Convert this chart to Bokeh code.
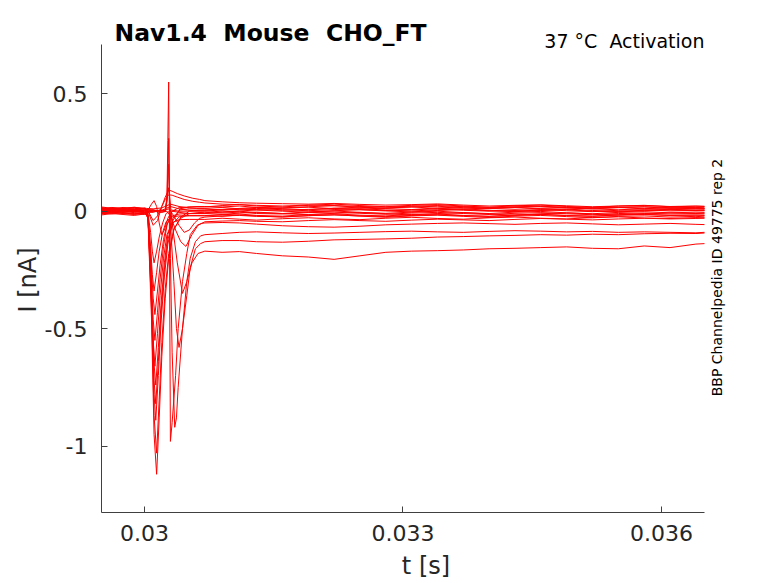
import math
from bokeh.plotting import figure
from bokeh.models import Range1d, FixedTicker, Label, Title
from bokeh.embed import file_html
from bokeh.resources import INLINE

# ---------------- data ----------------
x_ticks = [0.03, 0.033, 0.036]
x_tick_labels = ["0.03", "0.033", "0.036"]
y_ticks = [-1, -0.5, 0, 0.5]
y_tick_labels = ["-1", "-0.5", "0", "0.5"]

PRE_T = [0.02950, 0.02962, 0.02975, 0.02988, 0.03000, 0.03002]
TAIL_T = [0.03070, 0.03090, 0.03110, 0.03130, 0.03160, 0.03190, 0.03220, 0.03250,
          0.03280, 0.03310, 0.03340, 0.03370, 0.03400, 0.03430, 0.03460, 0.03490,
          0.03520, 0.03550, 0.03580, 0.03610, 0.03640, 0.03650]

# fast traces (high voltage steps)
f1_pre = [0.010, 0.004, 0.008, 0.002, 0.005, 0.000]
f1_t = [0.03004, 0.03008, 0.03011, 0.03014, 0.03017, 0.03020, 0.03024, 0.03028, 0.03034, 0.03042, 0.03052, 0.03062]
f1_i = [-0.04, -0.45, -0.95, -1.12, -0.88, -0.62, -0.37, -0.20, -0.08, -0.025, 0.000, 0.004]
f1_tail = [0.005, 0.008, 0.010, 0.006, 0.004, 0.008, 0.012, 0.007, 0.003, 0.006, 0.010, 0.004, 0.000, 0.003, 0.007, 0.002, -0.002, 0.004, 0.006, 0.001, 0.003, 0.002]

f2_pre = [-0.005, 0.002, -0.004, 0.000, -0.003, -0.010]
f2_t = [0.03004, 0.03008, 0.03011, 0.03014, 0.03017, 0.03020, 0.03024, 0.03028, 0.03034, 0.03042, 0.03052, 0.03062]
f2_i = [-0.03, -0.41, -0.87, -1.03, -0.80, -0.56, -0.33, -0.18, -0.075, -0.03, -0.010, -0.006]
f2_tail = [-0.005, -0.008, -0.004, -0.010, -0.012, -0.006, -0.004, -0.009, -0.013, -0.008, -0.005, -0.010, -0.014, -0.009, -0.006, -0.011, -0.015, -0.010, -0.008, -0.012, -0.010, -0.011]

f3_pre = [0.015, 0.010, 0.016, 0.012, 0.010, 0.005]
f3_t = [0.03004, 0.03008, 0.03011, 0.03013, 0.03016, 0.03019, 0.03023, 0.03027, 0.03033, 0.03041, 0.03052, 0.03062]
f3_i = [-0.03, -0.38, -0.78, -0.89, -0.70, -0.48, -0.28, -0.14, -0.04, 0.010, 0.018, 0.020]
f3_tail = [0.020, 0.018, 0.022, 0.016, 0.014, 0.019, 0.023, 0.017, 0.013, 0.018, 0.021, 0.015, 0.011, 0.016, 0.020, 0.014, 0.010, 0.015, 0.018, 0.012, 0.014, 0.012]

f4_pre = [-0.012, -0.006, -0.010, -0.014, -0.008, -0.012]
f4_t = [0.03004, 0.03008, 0.03011, 0.03013, 0.03016, 0.03019, 0.03023, 0.03027, 0.03033, 0.03041, 0.03052, 0.03062]
f4_i = [-0.03, -0.35, -0.72, -0.82, -0.64, -0.44, -0.25, -0.12, -0.05, -0.022, -0.018, -0.018]
f4_tail = [-0.018, -0.022, -0.016, -0.020, -0.025, -0.019, -0.015, -0.021, -0.026, -0.020, -0.017, -0.022, -0.027, -0.021, -0.018, -0.023, -0.028, -0.022, -0.020, -0.025, -0.022, -0.024]

f5_pre = [0.004, 0.010, 0.006, 0.001, 0.006, 0.000]
f5_t = [0.03004, 0.03008, 0.03011, 0.03013, 0.03016, 0.03019, 0.03023, 0.03027, 0.03033, 0.03041, 0.03052, 0.03062]
f5_i = [-0.02, -0.32, -0.65, -0.74, -0.58, -0.40, -0.22, -0.10, -0.03, 0.005, 0.010, 0.010]
f5_tail = [0.010, 0.004, 0.008, 0.012, 0.006, 0.002, 0.007, 0.011, 0.005, 0.001, 0.006, 0.010, 0.004, 0.000, 0.005, 0.009, 0.003, -0.001, 0.004, 0.008, 0.005, 0.006]

f6_pre = [-0.016, -0.010, -0.014, -0.018, -0.012, -0.016]
f6_t = [0.03004, 0.03007, 0.03010, 0.03012, 0.03015, 0.03018, 0.03022, 0.03026, 0.03032, 0.03040, 0.03052, 0.03062]
f6_i = [-0.03, -0.26, -0.55, -0.66, -0.52, -0.36, -0.20, -0.10, -0.05, -0.036, -0.035, -0.035]
f6_tail = [-0.035, -0.030, -0.034, -0.038, -0.032, -0.028, -0.033, -0.036, -0.030, -0.026, -0.031, -0.034, -0.028, -0.025, -0.030, -0.033, -0.027, -0.024, -0.029, -0.031, -0.027, -0.028]

f7_pre = [0.018, 0.012, 0.008, 0.014, 0.012, 0.010]
f7_t = [0.03004, 0.03007, 0.03010, 0.03012, 0.03015, 0.03018, 0.03022, 0.03026, 0.03032, 0.03040, 0.03052, 0.03062]
f7_i = [-0.02, -0.22, -0.46, -0.55, -0.43, -0.29, -0.15, -0.06, 0.000, 0.015, 0.018, 0.018]
f7_tail = [0.018, 0.024, 0.028, 0.022, 0.018, 0.025, 0.030, 0.024, 0.019, 0.025, 0.028, 0.022, 0.017, 0.023, 0.026, 0.020, 0.016, 0.022, 0.025, 0.019, 0.021, 0.020]

f8_pre = [0.000, -0.005, 0.002, -0.003, -0.006, -0.008]
f8_t = [0.03004, 0.03007, 0.03010, 0.03012, 0.03015, 0.03018, 0.03022, 0.03026, 0.03032, 0.03040, 0.03052, 0.03062]
f8_i = [-0.02, -0.18, -0.37, -0.44, -0.34, -0.23, -0.12, -0.055, -0.02, -0.012, -0.010, -0.010]
f8_tail = [-0.010, -0.004, 0.000, -0.006, -0.010, -0.003, 0.001, -0.005, -0.009, -0.004, 0.000, -0.006, -0.010, -0.004, -0.001, -0.007, -0.011, -0.005, -0.002, -0.007, -0.004, -0.005]

f9_pre = [-0.008, -0.012, -0.006, -0.010, -0.014, -0.010]
f9_t = [0.03004, 0.03007, 0.03009, 0.03011, 0.03014, 0.03017, 0.03021, 0.03025, 0.03031, 0.03040, 0.03052, 0.03062]
f9_i = [-0.02, -0.15, -0.27, -0.34, -0.26, -0.17, -0.09, -0.045, -0.025, -0.020, -0.020, -0.020]
f9_tail = [-0.020, -0.015, -0.012, -0.018, -0.021, -0.014, -0.011, -0.017, -0.020, -0.014, -0.012, -0.018, -0.022, -0.016, -0.013, -0.019, -0.022, -0.016, -0.013, -0.018, -0.016, -0.017]

f10_pre = [0.008, 0.014, 0.010, 0.006, 0.012, 0.006]
f10_t = [0.03004, 0.03007, 0.03009, 0.03011, 0.03014, 0.03017, 0.03021, 0.03025, 0.03031, 0.03040, 0.03052, 0.03062]
f10_i = [-0.01, -0.09, -0.17, -0.22, -0.17, -0.11, -0.05, -0.01, 0.005, 0.000, 0.000, 0.000]
f10_tail = [0.000, 0.006, 0.012, 0.016, 0.010, 0.006, 0.013, 0.017, 0.011, 0.007, 0.014, 0.018, 0.012, 0.008, 0.013, 0.016, 0.010, 0.006, 0.011, 0.014, 0.010, 0.011]

f11_pre = [-0.002, 0.004, 0.000, 0.006, 0.002, 0.004]
f11_t = [0.03004, 0.03008, 0.03011, 0.03014, 0.03017, 0.03020, 0.03023, 0.03027, 0.03032, 0.03040, 0.03052, 0.03062]
f11_i = [0.005, 0.030, 0.045, 0.020, -0.050, -0.100, -0.080, -0.030, 0.000, -0.005, -0.010, -0.010]
f11_tail = [-0.010, -0.014, -0.008, -0.004, -0.010, -0.015, -0.009, -0.005, -0.011, -0.016, -0.010, -0.006, -0.012, -0.017, -0.011, -0.007, -0.012, -0.016, -0.010, -0.007, -0.009, -0.008]

# traces with an outward hump
p1_pre = [0.012, 0.006, 0.011, 0.016, 0.010, 0.008]
p1_t = [0.03005, 0.03010, 0.03015, 0.03020, 0.03024, 0.03028, 0.03032, 0.03038, 0.03046, 0.03056, 0.03064]
p1_i = [-0.010, -0.060, -0.040, 0.020, 0.060, 0.090, 0.085, 0.075, 0.065, 0.055, 0.050]
p1_tail = [0.045, 0.040, 0.036, 0.034, 0.032, 0.030, 0.033, 0.029, 0.026, 0.028, 0.031, 0.026, 0.022, 0.025, 0.027, 0.023, 0.019, 0.022, 0.024, 0.020, 0.022, 0.021]

p2_pre = [0.002, 0.008, 0.003, -0.002, 0.004, 0.000]
p2_t = [0.03005, 0.03010, 0.03015, 0.03020, 0.03024, 0.03028, 0.03032, 0.03038, 0.03046, 0.03056, 0.03064]
p2_i = [-0.005, -0.040, -0.020, 0.020, 0.050, 0.070, 0.068, 0.060, 0.050, 0.042, 0.038]
p2_tail = [0.035, 0.030, 0.028, 0.025, 0.022, 0.026, 0.024, 0.020, 0.018, 0.021, 0.024, 0.019, 0.016, 0.019, 0.021, 0.017, 0.014, 0.017, 0.019, 0.015, 0.016, 0.015]

# slower traces (lower voltage steps)
s1_pre = [0.006, 0.000, 0.004, 0.008, 0.002, 0.004]
s1_t = [0.03010, 0.03018, 0.03024, 0.03026, 0.03027, 0.03028, 0.03029, 0.03030, 0.03032, 0.03036, 0.03039, 0.03044, 0.03049, 0.03053, 0.03061, 0.03066]
s1_i = [0.005, -0.005, 0.000, 0.060, 0.300, 0.550, -0.200, -0.980, -0.900, -0.700, -0.500, -0.300, -0.180, -0.100, -0.060, -0.052]
s1_tail = [-0.050, -0.048, -0.050, -0.055, -0.062, -0.066, -0.068, -0.064, -0.058, -0.055, -0.052, -0.050, -0.053, -0.056, -0.052, -0.050, -0.054, -0.058, -0.055, -0.052, -0.056, -0.057]

s2_pre = [-0.004, -0.008, -0.002, -0.006, -0.010, -0.005]
s2_t = [0.03010, 0.03018, 0.03024, 0.03026, 0.03028, 0.03030, 0.03032, 0.03035, 0.03037, 0.03039, 0.03044, 0.03049, 0.03053, 0.03059, 0.03065]
s2_i = [-0.005, 0.005, 0.000, 0.050, 0.310, -0.200, -0.600, -0.920, -0.880, -0.750, -0.500, -0.300, -0.200, -0.130, -0.105]
s2_tail = [-0.100, -0.095, -0.090, -0.088, -0.092, -0.095, -0.093, -0.090, -0.087, -0.085, -0.088, -0.090, -0.086, -0.083, -0.085, -0.088, -0.086, -0.090, -0.088, -0.090, -0.092, -0.090]

s3_pre = [0.008, 0.012, 0.006, 0.004, 0.010, 0.006]
s3_t = [0.03010, 0.03018, 0.03024, 0.03026, 0.03028, 0.03030, 0.03034, 0.03037, 0.03040, 0.03044, 0.03049, 0.03053, 0.03059, 0.03065]
s3_i = [0.000, 0.005, 0.000, 0.040, 0.200, -0.050, -0.300, -0.500, -0.580, -0.500, -0.360, -0.240, -0.160, -0.138]
s3_tail = [-0.130, -0.125, -0.125, -0.130, -0.132, -0.128, -0.122, -0.120, -0.118, -0.115, -0.110, -0.108, -0.105, -0.103, -0.100, -0.102, -0.098, -0.100, -0.096, -0.094, -0.095, -0.093]

s4_pre = [-0.010, -0.004, -0.008, -0.012, -0.006, -0.004]
s4_t = [0.03010, 0.03018, 0.03024, 0.03028, 0.03032, 0.03038, 0.03044, 0.03049, 0.03055, 0.03062]
s4_i = [0.005, 0.000, 0.005, 0.100, -0.050, -0.220, -0.350, -0.300, -0.220, -0.180]
s4_tail = [-0.170, -0.175, -0.172, -0.180, -0.190, -0.195, -0.205, -0.190, -0.175, -0.170, -0.168, -0.165, -0.160, -0.158, -0.155, -0.152, -0.158, -0.160, -0.148, -0.155, -0.140, -0.138]

s5_pre = [0.003, -0.002, 0.004, 0.000, -0.004, 0.000]
s5_t = [0.03010, 0.03020, 0.03026, 0.03030, 0.03036, 0.03042, 0.03048, 0.03055, 0.03062]
s5_i = [0.000, -0.005, 0.000, -0.020, -0.080, -0.130, -0.150, -0.100, -0.060]
s5_tail = [-0.045, -0.042, -0.040, -0.043, -0.045, -0.040, -0.036, -0.040, -0.043, -0.038, -0.034, -0.037, -0.040, -0.035, -0.031, -0.034, -0.037, -0.033, -0.030, -0.033, -0.031, -0.030]

s6_pre = [0.014, 0.009, 0.012, 0.017, 0.011, 0.008]
s6_t = [0.03010, 0.03020, 0.03028, 0.03034, 0.03040, 0.03046, 0.03052, 0.03058, 0.03064]
s6_i = [0.005, 0.000, 0.010, -0.020, -0.060, -0.090, -0.080, -0.050, -0.030]
s6_tail = [-0.025, -0.020, -0.018, -0.022, -0.024, -0.019, -0.016, -0.020, -0.023, -0.018, -0.015, -0.019, -0.022, -0.017, -0.014, -0.018, -0.021, -0.016, -0.014, -0.018, -0.017, -0.018]

# non-activated traces
b1_pre = [-0.006, 0.000, -0.004, 0.002, -0.002, -0.004]
b1_t = [0.03010, 0.03020, 0.03030, 0.03040, 0.03050, 0.03060]
b1_i = [0.000, 0.004, 0.020, 0.010, 0.004, 0.002]
b1_tail = [0.002, -0.003, 0.001, 0.005, 0.000, -0.004, 0.002, 0.006, 0.001, -0.003, 0.003, 0.007, 0.002, -0.002, 0.003, 0.006, 0.000, -0.003, 0.002, 0.005, 0.002, 0.003]

b2_pre = [0.010, 0.016, 0.012, 0.008, 0.014, 0.012]
b2_t = [0.03010, 0.03020, 0.03030, 0.03040, 0.03050, 0.03060]
b2_i = [0.010, 0.014, 0.030, 0.020, 0.015, 0.012]
b2_tail = [0.012, 0.016, 0.010, 0.008, 0.013, 0.017, 0.011, 0.008, 0.014, 0.018, 0.012, 0.009, 0.014, 0.017, 0.011, 0.008, 0.013, 0.016, 0.010, 0.008, 0.011, 0.010]

traces = [
    (b1_pre, b1_t, b1_i, b1_tail), (b2_pre, b2_t, b2_i, b2_tail),
    (s6_pre, s6_t, s6_i, s6_tail), (s5_pre, s5_t, s5_i, s5_tail),
    (s4_pre, s4_t, s4_i, s4_tail), (s3_pre, s3_t, s3_i, s3_tail),
    (s2_pre, s2_t, s2_i, s2_tail), (s1_pre, s1_t, s1_i, s1_tail),
    (f1_pre, f1_t, f1_i, f1_tail), (f2_pre, f2_t, f2_i, f2_tail),
    (f3_pre, f3_t, f3_i, f3_tail), (f4_pre, f4_t, f4_i, f4_tail),
    (f5_pre, f5_t, f5_i, f5_tail), (f6_pre, f6_t, f6_i, f6_tail),
    (f7_pre, f7_t, f7_i, f7_tail), (f8_pre, f8_t, f8_i, f8_tail),
    (f9_pre, f9_t, f9_i, f9_tail), (f10_pre, f10_t, f10_i, f10_tail),
    (f11_pre, f11_t, f11_i, f11_tail),
    (p1_pre, p1_t, p1_i, p1_tail), (p2_pre, p2_t, p2_i, p2_tail),
]

# ---------------- figure ----------------
FONT = "DejaVu Sans"
TXT = "#262626"
X0, X1 = 0.0295, 0.0365          # visible axis extent
Y0, Y1 = -1.2827, 0.7098
NB = "\u00a0"

p = figure(width=778, height=583, output_backend="svg", toolbar_location=None,
           x_range=Range1d(X0, 0.037034), y_range=Range1d(Y0, 0.8544),
           min_border_left=101, min_border_right=28, min_border_top=10,
           min_border_bottom=71)
p.outline_line_color = None
p.xgrid.visible = False
p.ygrid.visible = False
p.background_fill_color = "white"
p.border_fill_color = "white"

for pre, et, ei, tail in traces:
    xs = PRE_T + et + TAIL_T
    ys = pre + ei + tail
    n = min(len(xs), len(ys))
    p.line(xs[:n], ys[:n], line_color="#ff0000", line_width=1)

for ax in (p.xaxis[0], p.yaxis[0]):
    ax.axis_line_color = "#404040"
    ax.axis_line_width = 1
    ax.major_tick_line_color = "#404040"
    ax.major_tick_in = 6
    ax.major_tick_out = 0
    ax.minor_tick_line_color = None
    ax.major_label_text_font = FONT
    ax.major_label_text_font_size = "22px"
    ax.major_label_text_color = TXT
    ax.axis_label_text_font = FONT
    ax.axis_label_text_font_size = "24px"
    ax.axis_label_text_font_style = "normal"
    ax.axis_label_text_color = TXT

p.xaxis.bounds = (X0, X1)
p.xaxis.ticker = FixedTicker(ticks=x_ticks)
p.xaxis.major_label_overrides = dict(zip(x_ticks, x_tick_labels))
p.xaxis.major_label_standoff = 12
p.xaxis.axis_label = "t [s]"
p.xaxis.axis_label_standoff = 8

p.yaxis.bounds = (Y0, Y1)
p.yaxis.ticker = FixedTicker(ticks=y_ticks)
p.yaxis.major_label_overrides = dict(zip(y_ticks, y_tick_labels))
p.yaxis.major_label_standoff = 14

# y axis label, placed along the visible part of the axis
p.add_layout(Title(text="I [nA]", align="left", offset=200, vertical_align="bottom",
                   standoff=0, text_font=FONT, text_font_size="24px",
                   text_font_style="normal", text_color=TXT), "left")

p.add_layout(Label(x=13, y=480, x_units="screen", y_units="screen",
                   text="Nav1.4 " + NB + "Mouse " + NB + "CHO_FT", text_font=FONT,
                   text_font_size="23.5px", text_font_style="bold",
                   text_color="black", text_baseline="alphabetic", text_align="left"))
p.add_layout(Label(x=603, y=472, x_units="screen", y_units="screen",
                   text="37 °C " + NB + "Activation", text_font=FONT,
                   text_font_size="19px", text_color="black",
                   text_baseline="alphabetic", text_align="right"))
p.add_layout(Label(x=615, y=235, x_units="screen", y_units="screen",
                   text="BBP Channelpedia ID 49775 rep 2", text_font=FONT,
                   text_font_size="14px", text_color="black", angle=math.pi / 2,
                   text_baseline="middle", text_align="center"))

open("out.html", "w").write(file_html(p, INLINE))
